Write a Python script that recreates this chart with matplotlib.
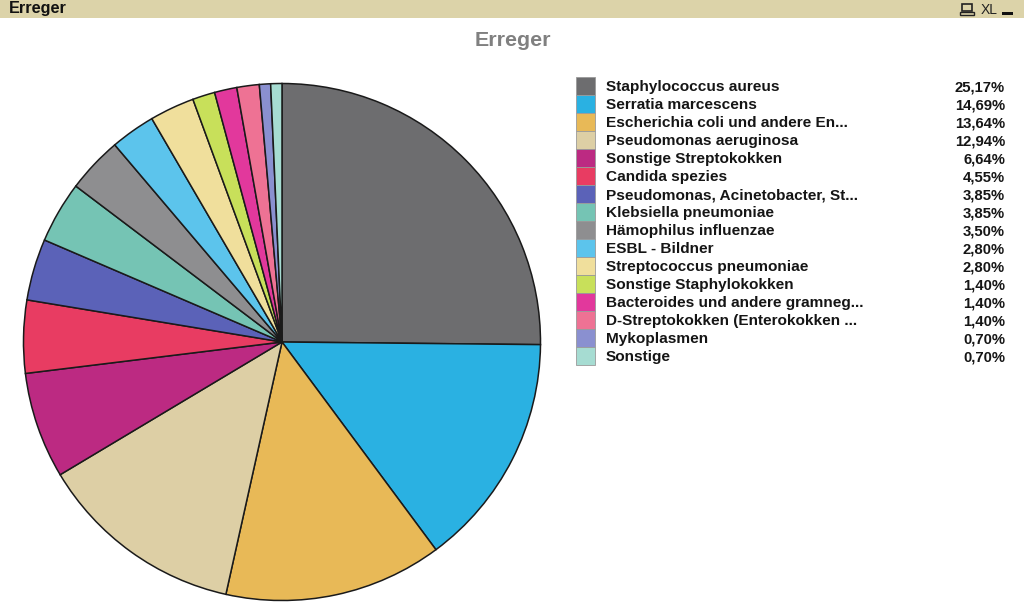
import matplotlib
matplotlib.use('Agg')
import matplotlib.pyplot as plt
from matplotlib.patches import Rectangle

labels = ['Staphylococcus aureus', 'Serratia marcescens', 'Escherichia coli und andere En...',
          'Pseudomonas aeruginosa', 'Sonstige Streptokokken', 'Candida spezies',
          'Pseudomonas, Acinetobacter, St...', 'Klebsiella pneumoniae', 'Hämophilus influenzae',
          'ESBL - Bildner', 'Streptococcus pneumoniae', 'Sonstige Staphylokokken',
          'Bacteroides und andere gramneg...', 'D-Streptokokken (Enterokokken ...',
          'Mykoplasmen', 'Sonstige']
values = [25.17, 14.69, 13.64, 12.94, 6.64, 4.55, 3.85, 3.85, 3.50, 2.80, 2.80, 1.40, 1.40, 1.40, 0.70, 0.70]
value_labels = ['25,17%', '14,69%', '13,64%', '12,94%', '6,64%', '4,55%', '3,85%', '3,85%',
                '3,50%', '2,80%', '2,80%', '1,40%', '1,40%', '1,40%', '0,70%', '0,70%']
colors = ['#6D6D6F', '#2AB1E2', '#E8B957', '#DDCFA5', '#BC2A82', '#E83C62', '#5B62B8', '#75C4B4',
          '#8E8E90', '#5CC4EC', '#F0DF9C', '#C8E05A', '#E2389C', '#EE7294', '#8A90D0', '#A6DCD2']

plt.rcParams['font.family'] = ['Liberation Sans', 'DejaVu Sans']

fig = plt.figure(figsize=(10.24, 6.08), dpi=100, facecolor='white')

# overlay in pixel coords for the header and legend
bg = fig.add_axes([0, 0, 1, 1])
bg.set_xlim(0, 1024)
bg.set_ylim(608, 0)
bg.axis('off')

bg.add_patch(Rectangle((0, 0), 1024, 18, fc='#DCD3A9', ec='none'))
bg.text(9, 9, 'Erreger', fontsize=11.7, fontweight='bold', color='#111111', va='center')
bg.text(981, 10, 'XL', fontsize=10, color='#222222', va='center')
bg.add_patch(Rectangle((962, 4), 10, 7, fc='none', ec='#222222', lw=1.2))
bg.add_patch(Rectangle((960, 12), 14, 3, fc='none', ec='#222222', lw=1))
bg.add_patch(Rectangle((1002, 12), 11, 3, fc='#111111', ec='none'))

bg.text(513, 41, 'Erreger', fontsize=15.4, fontweight='bold', color='#808080', ha='center', va='center')

for i, name in enumerate(labels):
    y = 77 + i * 18
    bg.add_patch(Rectangle((576, y), 19, 18, fc=colors[i], ec='#9a9a9a', lw=0.6))
    bg.text(606, y + 10, name, fontsize=11.1, fontweight='bold', color='#151515', va='center')
    bg.text(1005, y + 10, value_labels[i], fontsize=10.7, fontweight='bold', color='#151515',
            va='center', ha='right')

# pie centre (282,342), radius 258.5 px
cx, cy, r = 282, 342, 258.5
ax = fig.add_axes([(cx - r) / 1024, (608 - cy - r) / 608, 2 * r / 1024, 2 * r / 608])
ax.pie(values, colors=colors, startangle=90, counterclock=False, radius=1,
       wedgeprops={'edgecolor': '#1a1a1a', 'linewidth': 1.1})
ax.set_xlim(-1, 1)
ax.set_ylim(-1, 1)
ax.patch.set_alpha(0)

fig.savefig('out.png', dpi=100)
